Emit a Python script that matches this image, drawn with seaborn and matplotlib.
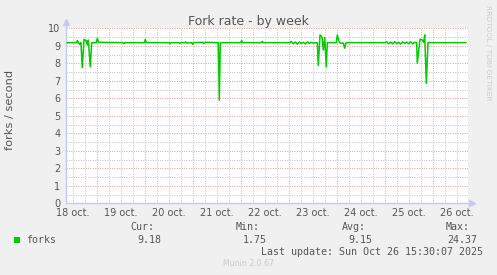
import matplotlib
matplotlib.use("Agg")
import matplotlib.pyplot as plt
import matplotlib.ticker as mticker
import numpy as np
import pandas as pd
import seaborn as sns

# ---- data (hours since 18 oct 00:00, forks/second) ----
hours = [9.15, 14.0, 14.3, 14.9, 15.65, 16.1, 16.8, 17.65, 18.65, 19.3, 19.8, 20.8, 21.5,
         23.8, 24.3, 24.9, 37.2, 37.65, 38.1, 47.8, 48.3, 48.8, 60.2, 60.65, 61.1,
         65.0, 65.5, 66.0, 68.0, 68.5, 69.0, 71.5, 72.0, 72.5, 77.0, 77.5, 78.0,
         84.8, 85.3, 85.8, 96.0, 96.5, 97.0, 106.3, 106.8, 107.3,
         120.65, 121.3, 122.3, 123.3, 124.3, 125.3, 126.3, 127.3, 128.3, 129.3, 130.3, 131.3, 132.15,
         134.3, 134.8, 135.65, 136.65, 137.3, 138.0, 138.8, 139.3,
         143.8, 144.3, 145.3, 146.15, 147.3, 148.0, 148.65,
         168.15, 169.0, 170.0, 171.0, 172.0, 173.0, 174.0, 175.0, 176.0, 177.0, 178.0,
         179.0, 180.0, 181.0, 182.0, 183.0, 184.0,
         184.3, 185.65, 186.65, 187.5, 188.0, 188.8, 189.65, 208.65]
forks = [9.18, 9.18, 9.30, 9.18, 9.08, 9.18, 7.75, 9.37, 9.30, 9.05, 9.33, 7.80, 9.18,
         9.18, 9.43, 9.20, 9.18, 9.12, 9.18, 9.18, 9.37, 9.18, 9.18, 9.12, 9.18,
         9.18, 9.14, 9.18, 9.18, 9.22, 9.16, 9.18, 9.08, 9.18, 9.20, 9.13, 9.20,
         9.18, 5.90, 9.18, 9.18, 9.30, 9.18, 9.18, 9.25, 9.18,
         9.18, 9.25, 9.12, 9.22, 9.10, 9.21, 9.13, 9.20, 9.11, 9.22, 9.14, 9.20, 9.16,
         9.18, 7.88, 9.62, 9.50, 8.76, 9.47, 7.80, 9.18,
         9.18, 9.62, 9.20, 9.14, 9.16, 8.86, 9.18,
         9.18, 9.23, 9.12, 9.21, 9.11, 9.23, 9.13, 9.20, 9.10, 9.22, 9.14,
         9.21, 9.12, 9.23, 9.11, 9.20, 9.18,
         8.00, 9.37, 9.35, 9.20, 9.62, 6.86, 9.18, 9.18]

day_labels = ["18 oct.", "19 oct.", "20 oct.", "21 oct.", "22 oct.",
              "23 oct.", "24 oct.", "25 oct.", "26 oct."]
y_ticks = [0, 1, 2, 3, 4, 5, 6, 7, 8, 9, 10]
stat_names = ["Cur:", "Min:", "Avg:", "Max:"]
stat_values = ["9.18", "1.75", "9.15", "24.37"]
series_name = "forks"
title = "Fork rate - by week"
ylabel = "forks / second"
last_update = "Last update: Sun Oct 26 15:30:07 2025"
footer = "Munin 2.0.67"
side_text = "RRDTOOL / TOBI OETIKER"

# ---- styling ----
sns.set_theme(style="white")
plt.rcParams["font.family"] = ["DejaVu Sans"]

W, H = 497, 275
BG = "#F0F0F0"
TXT = "#555555"
AXC = "#C8C8F8"
MAJ = "#F09C9C"
MIN = "#C4C4C4"
GREEN = "#00CC00"

fig = plt.figure(figsize=(W / 100, H / 100), dpi=100, facecolor=BG)

def fx(x):
    return x / W

def fy(y):
    return 1 - y / H

left, right, top, bottom = 66, 468, 28.3, 203.3
ax = fig.add_axes([fx(left), fy(bottom), (right - left) / W, (bottom - top) / H])
ax.set_facecolor("white")

df = pd.DataFrame({"hours": hours, "forks": forks})
sns.lineplot(data=df, x="hours", y="forks", color=GREEN, lw=1.1, ax=ax, zorder=5)

ax.set_xlim(8.65, 209.65)
ax.set_ylim(0, 10)

# grid
midnights = [24 * d for d in range(1, 9)]
sixes = [h for h in range(6, 210, 6) if h % 24 != 0]
ax.xaxis.set_major_locator(mticker.FixedLocator(midnights))
ax.xaxis.set_minor_locator(mticker.FixedLocator(sixes))
ax.xaxis.set_major_formatter(mticker.NullFormatter())
lab = {12 + 24 * i: s for i, s in enumerate(day_labels)}
ax.xaxis.set_minor_formatter(mticker.FuncFormatter(lambda v, p: lab.get(int(round(v)), "")))
ax.set_yticks(y_ticks)
ax.set_yticklabels([str(v) for v in y_ticks])
ax.yaxis.set_minor_locator(mticker.MultipleLocator(0.5))

ax.grid(True, which="major", color=MAJ, ls=(0, (1, 1.4)), lw=0.72, zorder=1)
ax.grid(True, which="minor", color=MIN, ls=(0, (1, 1.4)), lw=0.72, zorder=0)

ax.tick_params(axis="x", which="major", length=2.2, width=0.8, color=MAJ, direction="out")
ax.tick_params(axis="x", which="minor", length=0, pad=3.5, labelsize=7, labelcolor=TXT)
ax.tick_params(axis="y", which="major", length=1.6, width=0.8, color=MAJ, direction="out",
               pad=2.4, labelsize=7, labelcolor=TXT)
ax.tick_params(axis="y", which="minor", length=0)
ax.set_xlabel("")
ax.set_ylabel("")

for s in ["top", "right"]:
    ax.spines[s].set_visible(False)
for s in ["left", "bottom"]:
    ax.spines[s].set_color(AXC)
    ax.spines[s].set_linewidth(1.0)

# axis arrows
ax.plot([0, 0], [1, 1.035], color=AXC, lw=1.0, transform=ax.transAxes, clip_on=False)
ax.plot([0], [1.035], marker="^", ms=4, color=AXC, transform=ax.transAxes, clip_on=False)
ax.plot([1, 1.009], [0, 0], color=AXC, lw=1.0, transform=ax.transAxes, clip_on=False)
ax.plot([1.009], [0], marker=">", ms=4, color=AXC, transform=ax.transAxes, clip_on=False)

# texts
fig.text(0.5, fy(24.5), title, ha="center", va="baseline", fontsize=9, color=TXT)
fig.text(fx(10.5), fy(110), ylabel, rotation=90, ha="center", va="center", fontsize=8.2, color=TXT)
fig.text(fx(488), fy(5), side_text, rotation=270, ha="center", va="top", fontsize=5.4, color="#CCCCCC")

mono = "DejaVu Sans Mono"
fs = 7.2
fig.patches.append(plt.Rectangle((fx(14), fy(243)), 6 / W, 6 / H, transform=fig.transFigure,
                                 facecolor=GREEN, edgecolor="none", figure=fig))
fig.text(fx(26.5), fy(240), series_name, ha="left", va="center", family=mono, fontsize=fs, color=TXT)
head_right = [154, 260, 366, 470]
val_right = [161, 267, 372, 477]
for name, val, hx, vx in zip(stat_names, stat_values, head_right, val_right):
    fig.text(fx(hx), fy(227.5), name, ha="right", va="center", family=mono, fontsize=fs, color=TXT)
    fig.text(fx(vx), fy(240), val, ha="right", va="center", family=mono, fontsize=fs, color=TXT)
fig.text(fx(483), fy(252), last_update, ha="right", va="center", family=mono, fontsize=fs, color=TXT)
fig.text(fx(248.5), fy(264), footer, ha="center", va="center", fontsize=5.6, color="#C8C8C8")

fig.savefig("out.png", dpi=100, facecolor=BG)
